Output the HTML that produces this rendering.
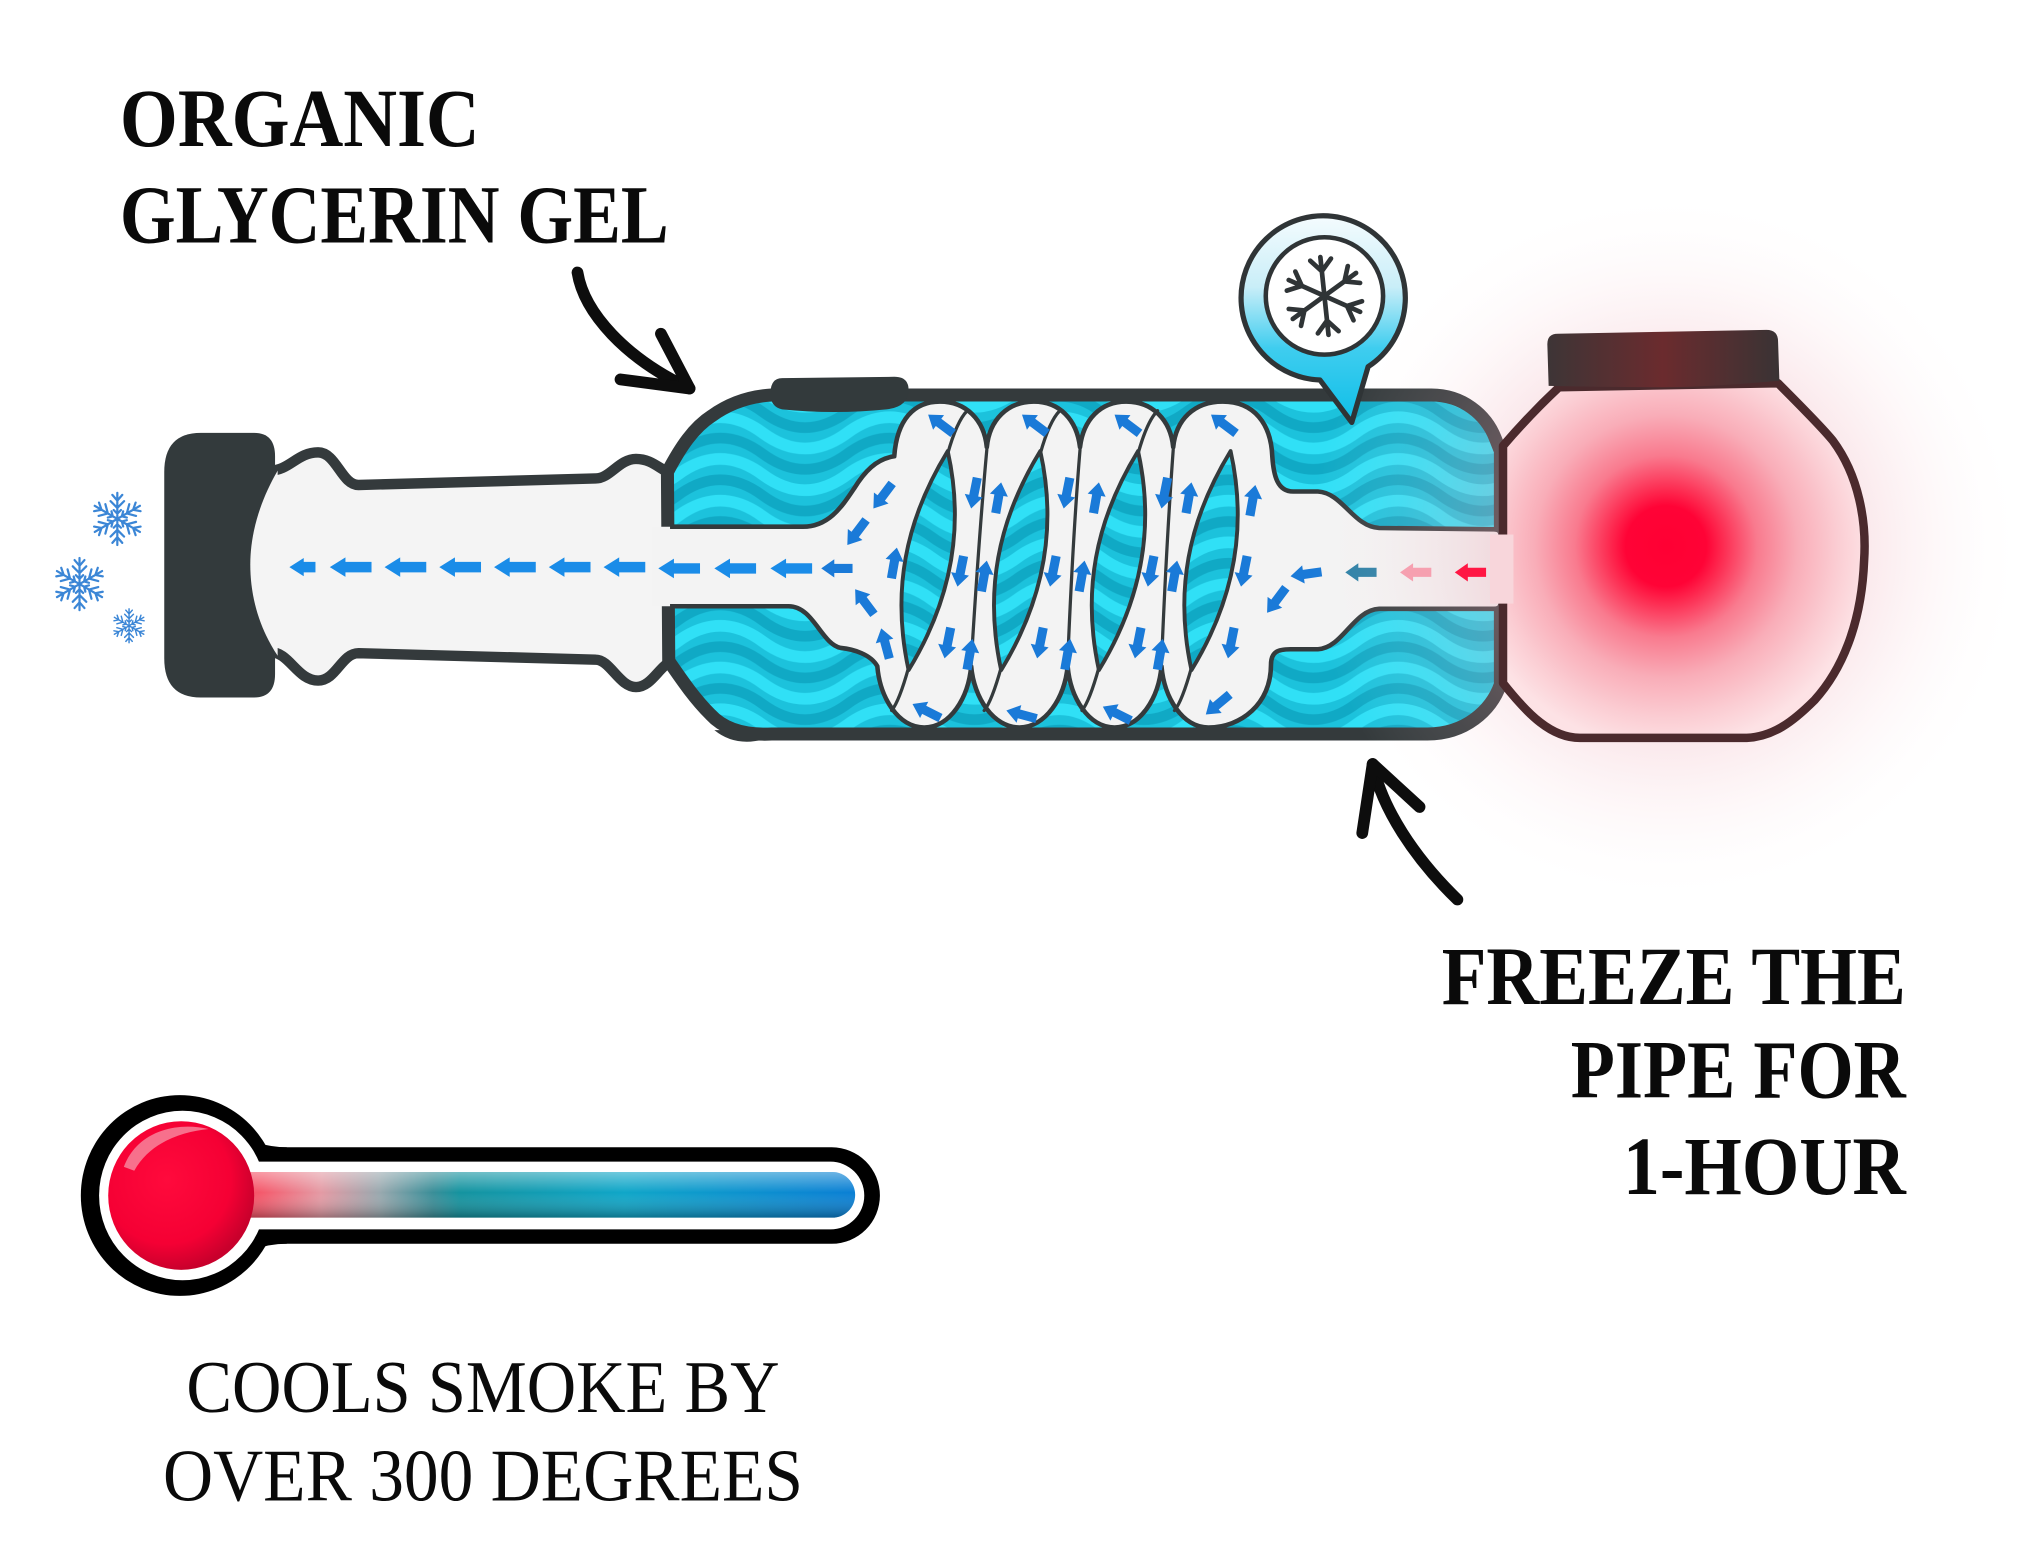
<!DOCTYPE html>
<html>
<head>
<meta charset="utf-8">
<style>
html,body{margin:0;padding:0;background:#ffffff;overflow:hidden;}
svg{display:block;}
</style>
</head>
<body>
<svg xmlns="http://www.w3.org/2000/svg" width="2044" height="1541" viewBox="0 0 1568 1182" preserveAspectRatio="none">
<defs>
  <pattern id="wv" patternUnits="userSpaceOnUse" width="130" height="32" x="0" y="4">
    <rect width="130" height="32" fill="#1cc2dc"/>
    <g fill="none" stroke-width="9">
      <path stroke="#30e0f6" d="M-65,8 Q-32.5,32 0,8 T65,8 T130,8 T195,8 M-65,40 Q-32.5,64 0,40 T65,40 T130,40 T195,40 M-65,-24 Q-32.5,0 0,-24 T65,-24 T130,-24 T195,-24"/>
      <path stroke="#10a9c5" stroke-width="8" d="M-65,24 Q-32.5,48 0,24 T65,24 T130,24 T195,24 M-65,56 Q-32.5,80 0,56 T65,56 T130,56 T195,56 M-65,-8 Q-32.5,16 0,-8 T65,-8 T130,-8 T195,-8"/>
    </g>
  </pattern>
  <radialGradient id="glow" gradientUnits="userSpaceOnUse" cx="1280" cy="420" r="275">
    <stop offset="0" stop-color="#e89aa8" stop-opacity="0.45"/>
    <stop offset="0.4" stop-color="#ea9fac" stop-opacity="0.38"/>
    <stop offset="0.55" stop-color="#eeaab6" stop-opacity="0.26"/>
    <stop offset="0.75" stop-color="#f5c6ce" stop-opacity="0.12"/>
    <stop offset="1" stop-color="#ffffff" stop-opacity="0"/>
  </radialGradient>
  <radialGradient id="bowlg" gradientUnits="userSpaceOnUse" cx="1278" cy="419" r="155">
    <stop offset="0" stop-color="#ff0033"/>
    <stop offset="0.2" stop-color="#ff0336"/>
    <stop offset="0.28" stop-color="#fd2a50"/>
    <stop offset="0.45" stop-color="#f97a8e"/>
    <stop offset="0.65" stop-color="#f9adb8"/>
    <stop offset="0.85" stop-color="#fbcdd3"/>
    <stop offset="1" stop-color="#fde2e5"/>
  </radialGradient>
  <linearGradient id="capg" gradientUnits="userSpaceOnUse" x1="1187" y1="0" x2="1364" y2="0">
    <stop offset="0" stop-color="#3d3536"/>
    <stop offset="0.5" stop-color="#6b2b2e"/>
    <stop offset="1" stop-color="#3a3334"/>
  </linearGradient>
  <linearGradient id="bubg" gradientUnits="userSpaceOnUse" x1="0" y1="165" x2="0" y2="322">
    <stop offset="0" stop-color="#f5fcfe"/>
    <stop offset="0.35" stop-color="#c9eef8"/>
    <stop offset="0.65" stop-color="#3fcdef"/>
    <stop offset="1" stop-color="#10bfe8"/>
  </linearGradient>
  <linearGradient id="tubeg" gradientUnits="userSpaceOnUse" x1="150" y1="0" x2="656" y2="0">
    <stop offset="0" stop-color="#ff2a50"/>
    <stop offset="0.1" stop-color="#f45a6c"/>
    <stop offset="0.19" stop-color="#e49aa4"/>
    <stop offset="0.28" stop-color="#98a8ae"/>
    <stop offset="0.36" stop-color="#3a8e98"/>
    <stop offset="0.4" stop-color="#14939f"/>
    <stop offset="0.65" stop-color="#0fa6c8"/>
    <stop offset="1" stop-color="#0a7fd4"/>
  </linearGradient>
  <linearGradient id="tubev" gradientUnits="userSpaceOnUse" x1="0" y1="899" x2="0" y2="934">
    <stop offset="0" stop-color="#ffffff" stop-opacity="0.4"/>
    <stop offset="0.45" stop-color="#ffffff" stop-opacity="0"/>
    <stop offset="1" stop-color="#000000" stop-opacity="0.3"/>
  </linearGradient>
  <radialGradient id="bulbg" gradientUnits="userSpaceOnUse" cx="128" cy="905" r="70">
    <stop offset="0" stop-color="#ff0a3c"/>
    <stop offset="0.7" stop-color="#f50034"/>
    <stop offset="1" stop-color="#c8002c"/>
  </radialGradient>
  <radialGradient id="redar" gradientUnits="userSpaceOnUse" cx="1074" cy="439" r="30">
    <stop offset="0" stop-color="#f0204a"/>
    <stop offset="1" stop-color="#f6a0b0"/>
  </radialGradient>
  <path id="ar" d="M0,0 L12,-7.5 L12,-4 L32,-4 L32,4 L12,4 L12,7.5 Z"/>
  <path id="ars" d="M0,0 L11,-7 L11,-4 L20,-4 L20,4 L11,4 L11,7 Z"/>
  <path id="ac" d="M0,0 L10,-7 L10,-3.5 L24,-3.5 L24,3.5 L10,3.5 L10,7 Z"/>
  <g id="sfa"><path d="M0,0 L0,-10 M0,-4.2 L-2.6,-6.8 M0,-4.2 L2.6,-6.8 M0,-7 L-1.9,-9.2 M0,-7 L1.9,-9.2 M0,-2 L-1.4,-3.4 M0,-2 L1.4,-3.4"/></g>
  <g id="sf" fill="none" stroke="#3b86d6" stroke-width="0.85" stroke-linecap="round">
    <use href="#sfa"/>
    <use href="#sfa" transform="rotate(60)"/>
    <use href="#sfa" transform="rotate(120)"/>
    <use href="#sfa" transform="rotate(180)"/>
    <use href="#sfa" transform="rotate(240)"/>
    <use href="#sfa" transform="rotate(300)"/>
  </g>
  <g id="bfa"><path d="M0,0 L0,-30 M0,-19 L-8,-28 M0,-19 L8,-28"/></g>
</defs>

<rect width="1568" height="1182" fill="#ffffff"/>

<!-- Mouthpiece tube -->
<path d="M200,361 L207,361 C222,361 228,347 244,347 C258,347 262,372 275,372 L457,367 C468,367 475,352 488,352 C500,352 506,360 516,364 L560,364 L560,507 L516,507 C506,510 500,527 488,527 C475,527 468,506 457,506 L275,501 C262,501 258,522 244,522 C228,522 222,500 207,500 L200,500 Z" fill="#f4f4f4" stroke="#343a3c" stroke-width="8" stroke-linejoin="round"/>
<!-- cap -->
<path d="M154,332 L195,332 Q211,332 211,350 L211,517 Q211,535 195,535 L154,535 Q126,535 126,505 L126,362 Q126,332 154,332 Z" fill="#333a3c"/>
<path d="M213,361 C199,385 192,410 192,433 C192,458 199,482 213,503 Z" fill="#f4f4f4"/>

<!-- Chamber -->
<path d="M512,362 C522,343 532,328 546,319 C560,309 575,304 592,303 L1098,303 C1122,303 1140,318 1147,336 L1151,346 L1151,525 C1144,545 1124,563 1095,563 L592,563 C572,564 556,560 545,548 C532,535 522,520 513,507 Z" fill="url(#wv)" stroke="#343a3c" stroke-width="10" stroke-linejoin="round"/>
<path d="M600,290 L686,289 Q697,289 697,299 Q697,312 680,314 Q640,318 600,314 Q591,312 591,302 Q591,290 600,290 Z" fill="#333a3c"/>
<path d="M548,560 Q565,574 590,566 L590,560 Z" fill="#343a3c"/>

<!-- Passage fill -->
<path d="M500,404 L616,404 C635,404 645,390 655,375 C663,362 672,352 686,350 C688,322 701,308 721,308 C741,308 755,322 757,343 C759,322 773,308 793,308 C813,308 826,322 828.5,343 C831,322 844,308 864,308 C884,308 898,322 900,343 C902,322 916,308 938,308 C962,308 975,325 976,350 C977,365 980,377 992,377 L1011,377 C1030,378 1038,404 1058,405 L1152,406 L1152,467 L1058,467 C1038,468 1030,497 1011,498 L990,498 C980,498 975,500 975,510 C975,540 952,558 927,558 C907,558 893,535 891,511 C889,535 875,558 855,558 C835,558 821,535 819,511 C817,535 802,558 782,558 C762,558 747,535 745,511 C743,535 729,558 709,558 C689,558 675,535 673,511 C668,502 655,498 645,497 C630,494 624,465 605,465 L500,465 Z" fill="#f3f3f3"/>
<!-- Passage stroke -->
<path d="M514,404 L616,404 C635,404 645,390 655,375 C663,362 672,352 686,350 C688,322 701,308 721,308 C741,308 755,322 757,343 C759,322 773,308 793,308 C813,308 826,322 828.5,343 C831,322 844,308 864,308 C884,308 898,322 900,343 C902,322 916,308 938,308 C962,308 975,325 976,350 C977,365 980,377 992,377 L1011,377 C1030,378 1038,404 1058,405 L1146,406 Q1151,406 1151,410 M1151,463 Q1151,467 1146,467 L1058,467 C1038,468 1030,497 1011,498 L990,498 C980,498 975,500 975,510 C975,540 952,558 927,558 C907,558 893,535 891,511 C889,535 875,558 855,558 C835,558 821,535 819,511 C817,535 802,558 782,558 C762,558 747,535 745,511 C743,535 729,558 709,558 C689,558 675,535 673,511 C668,502 655,498 645,497 C630,494 624,465 605,465 L514,465" fill="none" stroke="#343a3c" stroke-width="3.5" stroke-linejoin="round"/>

<!-- Coil windows -->
<g fill="url(#wv)" stroke="#343a3c" stroke-width="3" stroke-linejoin="round">
  <path d="M727,346 C694,400 684,454 697,514 C730,460 740,404 727,346 Z"/>
  <path d="M798,346 C765,400 755,454 768,514 C801,460 811,404 798,346 Z"/>
  <path d="M873,346 C840,400 830,454 843,514 C876,460 886,404 873,346 Z"/>
  <path d="M944,346 C911,400 901,454 914,514 C947,460 957,404 944,346 Z"/>
</g>
<!-- strand seams -->
<g fill="none" stroke="#343a3c" stroke-width="2.5" stroke-linecap="round">
  <path d="M757,345 C752,400 748,460 745,509"/>
  <path d="M828.5,345 C824,400 821,460 819,509"/>
  <path d="M900,345 C896,400 893,460 891,509"/>
  <path d="M727,348 C732,330 737,320 742,315"/>
  <path d="M798,348 C803,330 808,320 813,315"/>
  <path d="M873,348 C878,330 883,320 888,315"/>
  <path d="M697,512 C692,530 688,540 684,545"/>
  <path d="M768,512 C763,530 759,540 755,545"/>
  <path d="M843,512 C838,530 834,540 830,545"/>
  <path d="M914,512 C909,530 905,540 901,545"/>
</g>

<!-- Blue arrows in mouthpiece / left passage -->
<g fill="#1a8ce8">
  <use href="#ars" x="222" y="435"/>
  <use href="#ar" x="253" y="435"/>
  <use href="#ar" x="295" y="435"/>
  <use href="#ar" x="337" y="435"/>
  <use href="#ar" x="379" y="435"/>
  <use href="#ar" x="421" y="435"/>
  <use href="#ar" x="463" y="435"/>
  <use href="#ar" x="505" y="436"/>
  <use href="#ar" x="548" y="436"/>
  <use href="#ar" x="591" y="436"/>
</g>
<!-- Coil arrows -->
<g fill="#1a7ad8">
  <use href="#ac" transform="translate(630,436)"/>
  <use href="#ac" transform="translate(650,418) rotate(-53.1)"/>
  <use href="#ac" transform="translate(670,390) rotate(-53.1)"/>
  <use href="#ac" transform="translate(656,452) rotate(53.1)"/>
  <use href="#ac" transform="translate(676,482) rotate(75)"/>
  <use href="#ac" transform="translate(688,420) rotate(100)"/>

  <use href="#ac" transform="translate(745,390) rotate(-78.7)"/>
  <use href="#ac" transform="translate(734.5,450) rotate(-78.7)"/>
  <use href="#ac" transform="translate(724.6,505) rotate(-78.7)"/>
  <use href="#ac" transform="translate(768,370) rotate(100)"/>
  <use href="#ac" transform="translate(757,430) rotate(100)"/>
  <use href="#ac" transform="translate(746,490) rotate(100)"/>

  <use href="#ac" transform="translate(816,390) rotate(-78.7)"/>
  <use href="#ac" transform="translate(805.5,450) rotate(-78.7)"/>
  <use href="#ac" transform="translate(795.6,505) rotate(-78.7)"/>
  <use href="#ac" transform="translate(843,370) rotate(100)"/>
  <use href="#ac" transform="translate(832,430) rotate(100)"/>
  <use href="#ac" transform="translate(821,490) rotate(100)"/>

  <use href="#ac" transform="translate(891,390) rotate(-78.7)"/>
  <use href="#ac" transform="translate(880.5,450) rotate(-78.7)"/>
  <use href="#ac" transform="translate(870.6,505) rotate(-78.7)"/>
  <use href="#ac" transform="translate(914,370) rotate(100)"/>
  <use href="#ac" transform="translate(903,430) rotate(100)"/>
  <use href="#ac" transform="translate(892,490) rotate(100)"/>

  <use href="#ac" transform="translate(952,450) rotate(-78.7)"/>
  <use href="#ac" transform="translate(942,505) rotate(-78.7)"/>
  <use href="#ac" transform="translate(963,372) rotate(100)"/>

  <use href="#ac" transform="translate(712,318) rotate(36.9)"/>
  <use href="#ac" transform="translate(784,318) rotate(36.9)"/>
  <use href="#ac" transform="translate(855,318) rotate(36.9)"/>
  <use href="#ac" transform="translate(929,318) rotate(36.9)"/>

  <use href="#ac" transform="translate(700,540) rotate(26.6)"/>
  <use href="#ac" transform="translate(772,545) rotate(15)"/>
  <use href="#ac" transform="translate(846,542) rotate(26.6)"/>
  <use href="#ac" transform="translate(925,548) rotate(-40)"/>

  <use href="#ac" transform="translate(972,470) rotate(-53.1)"/>
  <use href="#ac" transform="translate(990,442) rotate(-8)"/>
</g>
<use href="#ac" transform="translate(1032,439)" fill="#2a7fa5"/>

<!-- Glow overlay -->
<circle cx="1280" cy="420" r="275" fill="url(#glow)"/>

<!-- Bowl -->
<path d="M1196,297 L1364,294 C1380,310 1398,328 1406,338 C1426,365 1432,400 1430,430 C1428,480 1412,515 1392,537 C1375,554 1360,565 1340,566 L1212,566 C1190,566 1172,548 1153,524 L1153,342 C1165,328 1180,312 1196,297 Z" fill="url(#bowlg)" stroke="#4b2a2d" stroke-width="6.5" stroke-linejoin="round"/>
<path d="M1187,264 Q1187,256 1195,256 L1355,253 Q1364,253 1364,262 L1365,292 Q1310,297 1276,297 Q1230,297 1188,296 Z" fill="url(#capg)"/>
<rect x="1143" y="410" width="18" height="53" fill="#f8d6db"/>

<!-- red arrows -->
<use href="#ac" transform="translate(1074,439)" fill="url(#redar)"/>
<use href="#ac" transform="translate(1116,439)" fill="#ff1744"/>

<!-- Snowflake bubble -->
<path d="M1012.6,291.5 A63,63 0 1 1 1049.5,281.3 L1037,324 Z" fill="url(#bubg)" stroke="#2f3436" stroke-width="4" stroke-linejoin="round"/>
<circle cx="1016" cy="227" r="45" fill="#ffffff" stroke="#2f3436" stroke-width="3.5"/>
<g transform="translate(1016,227) rotate(-6)" fill="none" stroke="#2f3436" stroke-width="3.6" stroke-linecap="round">
  <use href="#bfa"/>
  <use href="#bfa" transform="rotate(60)"/>
  <use href="#bfa" transform="rotate(120)"/>
  <use href="#bfa" transform="rotate(180)"/>
  <use href="#bfa" transform="rotate(240)"/>
  <use href="#bfa" transform="rotate(300)"/>
</g>

<!-- small snowflakes -->
<use href="#sf" transform="translate(90,398) scale(2)"/>
<use href="#sf" transform="translate(61,448) scale(2)"/>
<use href="#sf" transform="translate(99,480) scale(1.3)"/>

<!-- Hand drawn arrows -->
<g fill="none" stroke="#0d0d0d" stroke-width="9" stroke-linecap="round" stroke-linejoin="round">
  <path d="M443,209 C448,240 480,275 529,298"/>
  <path d="M507,256 L529,298 L476,291"/>
  <path d="M1118,690 C1085,658 1060,620 1053,586"/>
  <path d="M1045,639 L1053,586 L1089,619"/>
</g>

<!-- Thermometer -->
<ellipse cx="138" cy="917" rx="76" ry="77" fill="#000"/>
<rect x="138" y="880" width="537" height="74" rx="37" fill="#000"/>
<path d="M185,870 Q200,880 220,880 L220,954 Q200,954 185,964 Z" fill="#000"/>
<ellipse cx="140" cy="917" rx="64" ry="65" fill="#fff"/>
<rect x="140" y="891" width="523" height="52" rx="26" fill="#fff"/>
<rect x="150" y="899" width="506" height="35" rx="17.5" fill="url(#tubeg)"/>
<rect x="150" y="899" width="506" height="35" rx="17.5" fill="url(#tubev)"/>
<ellipse cx="139" cy="917" rx="56" ry="57" fill="url(#bulbg)"/>
<path d="M95,895 C105,868 135,860 160,866 C140,868 115,876 103,898 Z" fill="#f7a0b0" opacity="0.7"/>

<!-- Text -->
<g font-family="'Liberation Serif', 'Times New Roman', serif" fill="#0a0a0a">
  <text x="92" y="112" font-size="63" font-weight="bold" textLength="276" lengthAdjust="spacingAndGlyphs">ORGANIC</text>
  <text x="92" y="186" font-size="63" font-weight="bold" textLength="421" lengthAdjust="spacingAndGlyphs">GLYCERIN GEL</text>
  <text x="1106" y="770" font-size="63" font-weight="bold" textLength="356" lengthAdjust="spacingAndGlyphs">FREEZE THE</text>
  <text x="1205" y="842" font-size="63" font-weight="bold" textLength="257" lengthAdjust="spacingAndGlyphs">PIPE FOR</text>
  <text x="1245" y="916" font-size="63" font-weight="bold" textLength="217" lengthAdjust="spacingAndGlyphs">1-HOUR</text>
  <text x="143" y="1083" font-size="57" textLength="455" lengthAdjust="spacingAndGlyphs">COOLS SMOKE BY</text>
  <text x="125" y="1151" font-size="57" textLength="491" lengthAdjust="spacingAndGlyphs">OVER 300 DEGREES</text>
</g>
</svg>
</body>
</html>
